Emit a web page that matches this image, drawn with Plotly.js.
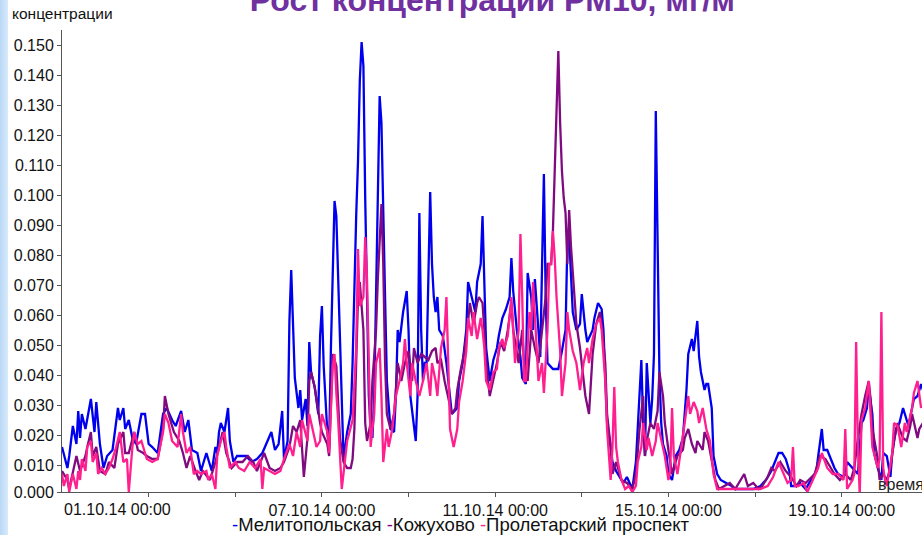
<!DOCTYPE html>
<html>
<head>
<meta charset="utf-8">
<script src="https://cdn.plot.ly/plotly-3.0.1.min.js"></script>
<style>
  html, body { margin: 0; padding: 0; background: #fff; }
  #wrap { position: relative; width: 922px; height: 535px; overflow: hidden; }
  #chart { position: absolute; left: 0; top: 0; width: 922px; height: 535px; }
  #strip { position: absolute; left: 0; top: 0; width: 8px; height: 535px;
           background: linear-gradient(to right, #b9d8f6, #d8eafb); z-index: 5; }
</style>
</head>
<body>
<div id="wrap"><div id="chart"></div><div id="strip"></div></div>
<script>
// Hours since 01.10.14 00:00 and PM10 concentration, mg/m3
const startDate = '2014-10-01T00:00:00Z';
const seriesNames = ['Мелитопольская', 'Кожухово', 'Пролетарский проспект'];
const xTickDates = ['2014-10-03','2014-10-05','2014-10-07','2014-10-09','2014-10-11','2014-10-13','2014-10-15','2014-10-17','2014-10-19'];
const xTickText = ['','','07.10.14 00:00','','11.10.14 00:00','','15.10.14 00:00','','19.10.14 00:00'];
const firstXLabel = '01.10.14 00:00';
const yTickVals = [0.001,0.01,0.02,0.03,0.04,0.05,0.06,0.07,0.08,0.09,0.10,0.11,0.12,0.13,0.14,0.15];
const yTickText = ['0.000','0.010','0.020','0.030','0.040','0.050','0.060','0.070','0.080','0.090','0.100','0.110','0.120','0.130','0.140','0.150'];

const melitopolskaya = [[0,0.016],[3,0.009],[4,0.013],[6,0.023],[8,0.017],[9,0.028],[10,0.019],[11,0.027],[13,0.022],[15,0.028],[16,0.032],[18,0.021],[19,0.031],[21,0.017],[23,0.009],[25,0.013],[28,0.015],[31,0.029],[32,0.025],[34,0.029],[35,0.022],[37,0.025],[39,0.019],[41,0.017],[44,0.027],[46,0.027],[48,0.017],[50,0.016],[53,0.014],[56,0.027],[58,0.029],[61,0.025],[63,0.023],[66,0.028],[68,0.021],[70,0.025],[72,0.015],[75,0.014],[77,0.008],[80,0.014],[81,0.012],[83,0.008],[85,0.016],[86,0.014],[87,0.021],[88,0.024],[90,0.021],[92,0.029],[93,0.018],[95,0.011],[97,0.013],[102,0.013],[105,0.011],[108,0.012],[111,0.014],[114,0.018],[116,0.021],[118,0.015],[120,0.017],[122,0.028],[123,0.012],[125,0.018],[126,0.058],[127,0.075],[128,0.059],[129,0.039],[131,0.029],[132,0.035],[133,0.025],[135,0.032],[136,0.023],[137,0.051],[138,0.041],[140,0.036],[142,0.027],[143,0.053],[144,0.063],[145,0.043],[147,0.021],[148,0.016],[149,0.049],[150,0.077],[151,0.098],[152,0.093],[153,0.072],[154,0.049],[155,0.027],[156,0.012],[158,0.021],[160,0.027],[161,0.044],[162,0.074],[163,0.093],[164,0.111],[165,0.138],[166,0.151],[167,0.143],[168,0.099],[169,0.066],[170,0.033],[171,0.022],[172,0.019],[173,0.033],[174,0.066],[175,0.105],[176,0.133],[177,0.124],[178,0.099],[179,0.066],[180,0.038],[181,0.029],[182,0.022],[184,0.021],[185,0.033],[186,0.055],[187,0.051],[189,0.061],[190,0.064],[191,0.068],[192,0.055],[193,0.033],[196,0.018],[197,0.033],[198,0.094],[199,0.055],[200,0.038],[201,0.044],[202,0.044],[203,0.079],[204,0.101],[205,0.077],[206,0.066],[207,0.061],[208,0.066],[209,0.055],[211,0.053],[213,0.044],[215,0.033],[216,0.027],[219,0.029],[220,0.038],[222,0.044],[224,0.055],[225,0.071],[227,0.066],[229,0.061],[230,0.071],[232,0.077],[233,0.093],[234,0.066],[235,0.049],[237,0.038],[239,0.045],[241,0.049],[242,0.053],[244,0.059],[246,0.062],[248,0.066],[249,0.079],[250,0.068],[252,0.055],[254,0.046],[255,0.039],[257,0.037],[258,0.074],[260,0.066],[261,0.055],[262,0.072],[264,0.055],[265,0.046],[266,0.077],[267,0.107],[268,0.066],[269,0.044],[272,0.042],[275,0.042],[277,0.048],[279,0.055],[280,0.084],[281,0.086],[283,0.061],[285,0.055],[287,0.057],[288,0.067],[290,0.055],[291,0.051],[294,0.055],[295,0.059],[297,0.064],[299,0.062],[300,0.055],[301,0.038],[302,0.024],[304,0.016],[305,0.011],[307,0.008],[309,0.006],[311,0.004],[313,0.006],[315,0.003],[316,0.002],[318,0.011],[320,0.033],[321,0.045],[322,0.024],[323,0.013],[324,0.044],[326,0.024],[327,0.032],[328,0.047],[329,0.128],[330,0.077],[331,0.041],[332,0.024],[333,0.017],[335,0.013],[336,0.007],[338,0.005],[340,0.013],[342,0.015],[344,0.019],[346,0.035],[347,0.047],[349,0.052],[350,0.048],[352,0.058],[353,0.046],[354,0.041],[356,0.035],[357,0.037],[358,0.037],[360,0.029],[361,0.013],[363,0.007],[365,0.005],[368,0.004],[371,0.003],[373,0.002],[376,0.002],[380,0.002],[383,0.002],[387,0.003],[390,0.005],[393,0.008],[396,0.013],[397,0.014],[399,0.014],[401,0.012],[403,0.008],[404,0.003],[407,0.003],[409,0.004],[412,0.002],[415,0.005],[418,0.008],[419,0.013],[421,0.022],[422,0.015],[424,0.015],[426,0.012],[428,0.009],[430,0.007],[433,0.006],[435,0.011],[438,0.009],[441,0.007],[443,0.024],[444,0.025],[446,0.029],[447,0.036],[449,0.027],[450,0.014],[452,0.009],[454,0.005],[455,0.014],[457,0.013],[459,0.006],[460,0.014],[462,0.022],[464,0.024],[466,0.029],[467,0.027],[469,0.023],[470,0.026],[472,0.032],[474,0.033],[476,0.037],[477,0.035]];

const kozhukhovo = [[0,0.008],[3,0.005],[4,0.002],[6,0.007],[8,0.013],[10,0.008],[13,0.013],[14,0.016],[16,0.021],[17,0.013],[19,0.016],[21,0.008],[24,0.007],[26,0.011],[29,0.009],[31,0.017],[34,0.021],[35,0.014],[37,0.014],[40,0.021],[42,0.015],[45,0.014],[47,0.013],[50,0.012],[53,0.012],[56,0.022],[57,0.033],[59,0.027],[61,0.023],[62,0.021],[65,0.018],[67,0.014],[69,0.009],[71,0.013],[74,0.008],[76,0.005],[78,0.008],[82,0.005],[85,0.011],[87,0.016],[89,0.021],[91,0.014],[94,0.009],[97,0.011],[100,0.011],[103,0.013],[106,0.011],[108,0.008],[112,0.014],[115,0.009],[118,0.008],[121,0.009],[123,0.011],[126,0.016],[128,0.023],[130,0.021],[132,0.025],[134,0.006],[136,0.019],[137,0.038],[138,0.041],[140,0.036],[142,0.027],[143,0.024],[144,0.021],[147,0.017],[148,0.013],[150,0.047],[152,0.043],[153,0.033],[154,0.019],[156,0.011],[158,0.009],[160,0.009],[161,0.012],[162,0.022],[163,0.049],[164,0.066],[165,0.071],[167,0.055],[168,0.024],[169,0.018],[171,0.024],[172,0.038],[174,0.055],[175,0.072],[177,0.097],[178,0.077],[179,0.044],[180,0.027],[182,0.022],[184,0.027],[186,0.044],[188,0.038],[190,0.044],[192,0.048],[194,0.038],[195,0.049],[197,0.044],[199,0.047],[201,0.046],[203,0.045],[205,0.048],[207,0.049],[208,0.044],[210,0.045],[212,0.038],[214,0.033],[216,0.027],[218,0.029],[219,0.035],[221,0.042],[223,0.048],[225,0.058],[226,0.064],[228,0.057],[230,0.064],[231,0.066],[233,0.064],[234,0.055],[235,0.044],[237,0.033],[239,0.038],[241,0.044],[243,0.051],[245,0.048],[247,0.055],[249,0.064],[250,0.055],[253,0.044],[255,0.055],[256,0.044],[258,0.038],[260,0.055],[262,0.049],[264,0.044],[266,0.055],[268,0.066],[269,0.077],[271,0.077],[272,0.088],[273,0.108],[274,0.136],[275,0.148],[276,0.124],[277,0.108],[278,0.099],[279,0.094],[280,0.077],[281,0.095],[282,0.083],[283,0.075],[284,0.066],[285,0.057],[287,0.049],[289,0.038],[290,0.033],[292,0.027],[293,0.038],[294,0.047],[296,0.057],[298,0.061],[299,0.057],[301,0.044],[302,0.027],[304,0.016],[305,0.007],[307,0.011],[310,0.005],[313,0.004],[316,0.002],[318,0.007],[320,0.022],[322,0.033],[323,0.013],[324,0.018],[326,0.024],[328,0.022],[330,0.028],[331,0.041],[333,0.033],[334,0.024],[336,0.015],[338,0.007],[340,0.011],[341,0.013],[344,0.015],[345,0.019],[347,0.022],[349,0.017],[351,0.014],[352,0.018],[355,0.015],[356,0.021],[358,0.018],[360,0.011],[362,0.005],[364,0.002],[367,0.003],[370,0.004],[373,0.002],[376,0.005],[378,0.007],[380,0.003],[383,0.004],[386,0.002],[388,0.003],[391,0.006],[393,0.009],[395,0.008],[398,0.011],[401,0.008],[404,0.006],[407,0.003],[409,0.005],[412,0.004],[415,0.006],[417,0.007],[420,0.013],[423,0.012],[426,0.009],[428,0.007],[431,0.005],[434,0.007],[437,0.005],[439,0.009],[441,0.019],[443,0.027],[445,0.033],[447,0.038],[448,0.032],[449,0.022],[452,0.012],[453,0.005],[455,0.007],[457,0.005],[459,0.009],[461,0.018],[463,0.024],[464,0.022],[466,0.019],[468,0.018],[470,0.023],[471,0.027],[474,0.019],[475,0.022],[477,0.024]];

const proletarsky = [[0,0.007],[1,0.003],[3,0.007],[4,0.001],[6,0.007],[8,0.002],[9,0.008],[10,0.005],[11,0.012],[13,0.008],[14,0.016],[16,0.018],[17,0.011],[19,0.014],[20,0.007],[22,0.009],[24,0.007],[26,0.009],[28,0.012],[30,0.016],[32,0.021],[34,0.011],[36,0.012],[37,0.001],[39,0.016],[40,0.021],[42,0.017],[44,0.018],[46,0.014],[47,0.012],[50,0.011],[53,0.012],[56,0.021],[57,0.027],[59,0.024],[61,0.018],[64,0.016],[66,0.027],[67,0.021],[69,0.014],[71,0.016],[73,0.007],[75,0.008],[77,0.007],[80,0.008],[81,0.005],[83,0.007],[85,0.002],[86,0.013],[88,0.018],[90,0.021],[91,0.016],[93,0.009],[96,0.011],[98,0.009],[101,0.008],[104,0.011],[107,0.009],[110,0.012],[111,0.002],[112,0.009],[115,0.008],[118,0.007],[121,0.008],[123,0.012],[126,0.017],[128,0.013],[130,0.021],[132,0.016],[133,0.025],[136,0.018],[137,0.027],[139,0.021],[141,0.016],[143,0.018],[144,0.027],[147,0.021],[148,0.014],[150,0.043],[151,0.047],[152,0.034],[153,0.025],[155,0.002],[157,0.014],[158,0.018],[161,0.025],[163,0.049],[164,0.082],[165,0.063],[167,0.066],[168,0.086],[169,0.072],[170,0.044],[171,0.016],[172,0.022],[173,0.027],[174,0.044],[176,0.049],[177,0.033],[178,0.011],[180,0.022],[181,0.016],[183,0.022],[185,0.033],[187,0.038],[189,0.044],[190,0.052],[191,0.044],[193,0.033],[194,0.044],[196,0.038],[198,0.033],[200,0.038],[202,0.044],[204,0.033],[205,0.044],[207,0.038],[208,0.033],[210,0.049],[212,0.055],[213,0.066],[214,0.044],[215,0.022],[217,0.016],[219,0.022],[220,0.031],[222,0.038],[224,0.048],[225,0.059],[227,0.053],[228,0.061],[230,0.052],[232,0.059],[233,0.055],[234,0.049],[235,0.038],[237,0.035],[239,0.041],[241,0.042],[242,0.049],[244,0.052],[245,0.049],[247,0.053],[249,0.066],[250,0.055],[251,0.044],[253,0.055],[254,0.087],[255,0.066],[256,0.038],[257,0.038],[259,0.061],[260,0.055],[261,0.071],[263,0.049],[264,0.038],[266,0.044],[267,0.034],[269,0.055],[270,0.077],[271,0.077],[272,0.088],[273,0.079],[274,0.066],[276,0.048],[277,0.033],[279,0.044],[280,0.061],[281,0.055],[283,0.048],[285,0.044],[287,0.035],[289,0.044],[291,0.049],[292,0.044],[294,0.052],[296,0.057],[298,0.059],[299,0.055],[301,0.038],[302,0.022],[304,0.005],[305,0.016],[306,0.036],[307,0.016],[308,0.011],[310,0.005],[312,0.002],[314,0.003],[316,0.001],[318,0.003],[319,0.011],[321,0.016],[322,0.024],[324,0.015],[325,0.019],[327,0.013],[329,0.018],[330,0.024],[332,0.018],[334,0.013],[336,0.005],[337,0.008],[338,0.029],[339,0.013],[341,0.007],[343,0.015],[345,0.024],[347,0.033],[348,0.027],[350,0.031],[352,0.028],[353,0.024],[355,0.029],[357,0.022],[359,0.018],[361,0.007],[363,0.002],[366,0.002],[368,0.002],[372,0.002],[376,0.002],[380,0.002],[383,0.002],[387,0.002],[391,0.003],[394,0.006],[397,0.011],[400,0.007],[402,0.004],[404,0.005],[405,0.016],[406,0.003],[408,0.003],[411,0.004],[413,0.001],[416,0.005],[419,0.009],[421,0.014],[423,0.011],[424,0.009],[427,0.007],[430,0.007],[433,0.005],[434,0.022],[435,0.002],[438,0.005],[439,0.007],[440,0.051],[441,0.016],[442,0.0],[443,0.025],[445,0.029],[447,0.038],[448,0.025],[449,0.016],[452,0.009],[453,0.012],[454,0.061],[455,0.009],[456,0.005],[457,0.003],[460,0.014],[461,0.024],[463,0.023],[465,0.016],[467,0.024],[468,0.021],[471,0.029],[472,0.034],[474,0.038],[476,0.029]];

const seriesColors = ['#0000ee', '#800a80', '#ff1f8e'];

const t0 = Date.parse(startDate);
function hourToDate(h) {
  const d = new Date(t0 + h * 3600000);
  const p = n => String(n).padStart(2, '0');
  return d.getUTCFullYear() + '-' + p(d.getUTCMonth() + 1) + '-' + p(d.getUTCDate()) + ' ' +
         p(d.getUTCHours()) + ':' + p(d.getUTCMinutes()) + ':' + p(d.getUTCSeconds());
}

const allSeries = [melitopolskaya, kozhukhovo, proletarsky];
const traces = allSeries.map((s, i) => ({
  type: 'scatter', mode: 'lines', name: seriesNames[i],
  x: s.map(p => hourToDate(p[0])), y: s.map(p => p[1]),
  line: { color: seriesColors[i], width: 2.3 },
  hoverinfo: 'skip', showlegend: false
}));

const font = 'Liberation Sans, Arial, sans-serif';
const legendHtml = seriesNames.map((n, i) =>
  '<span style="color:' + seriesColors[i] + '">-</span>' + n).join(' ');

const layout = {
  width: 922, height: 535,
  margin: { l: 62, r: 0, t: 30, b: 43, pad: 0 },
  paper_bgcolor: '#ffffff', plot_bgcolor: '#ffffff',
  showlegend: false,
  title: { text: '<b>Рост концентраций PM10, мг/м</b>', font: { family: font, size: 32, color: '#7030a0' },
           x: 0.534, xanchor: 'center', xref: 'container', y: 1, yanchor: 'middle', yref: 'container' },
  xaxis: {
    type: 'date', range: [hourToDate(0), hourToDate(476.5)],
    showgrid: false, zeroline: false, showline: true, linecolor: '#555', linewidth: 1,
    ticks: 'outside', ticklen: 4, tickcolor: '#555',
    tickvals: xTickDates, ticktext: xTickText,
    tickfont: { family: font, size: 16, color: '#111' }
  },
  yaxis: {
    range: [0.001, 0.155],
    showgrid: false, zeroline: false, showline: true, linecolor: '#555', linewidth: 1,
    ticks: 'outside', ticklen: 4, tickcolor: '#555',
    tickvals: yTickVals, ticktext: yTickText,
    tickfont: { family: font, size: 16, color: '#111' }
  },
  annotations: [
    { xref: 'x', yref: 'paper', x: hourToDate(0), y: 0, yshift: -7, xanchor: 'left', yanchor: 'top',
      text: firstXLabel, showarrow: false, font: { family: font, size: 16, color: '#111' } },
    { xref: 'paper', yref: 'paper', x: -0.06, y: 1.035, xanchor: 'left', yanchor: 'middle',
      text: 'концентрации', showarrow: false, font: { family: font, size: 15.5, color: '#111' } },
    { xref: 'paper', yref: 'paper', x: 0.9465, y: 0.017, xanchor: 'left', yanchor: 'middle',
      text: 'время', showarrow: false, font: { family: font, size: 16, color: '#222' } },
    { xref: 'paper', yref: 'paper', x: 0.463, y: -0.0714, xanchor: 'center', yanchor: 'middle',
      text: legendHtml, showarrow: false, font: { family: font, size: 18.5, color: '#111' } }
  ]
};

Plotly.newPlot('chart', traces, layout, { staticPlot: true, displayModeBar: false });
</script>
</body>
</html>
